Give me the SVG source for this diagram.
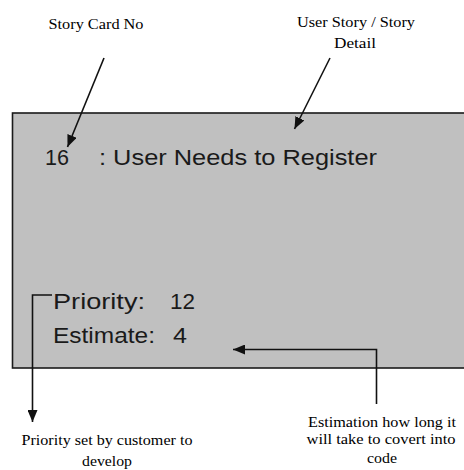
<svg xmlns="http://www.w3.org/2000/svg" width="464" height="470" viewBox="0 0 464 470">
  <style>
    .card { fill: #c0c0c0; stroke: #1a1a1a; stroke-width: 1.6; }
    .hand { font-family: "Liberation Sans", "DejaVu Sans", sans-serif; font-size: 22px; fill: #1a1a1a; }
    .note { font-family: "Liberation Serif", "Times New Roman", serif; font-size: 15px; fill: #000; text-anchor: middle; }
    .wire { fill: none; stroke: #111; stroke-width: 1.6; }
  </style>
  <defs>
    <marker id="head" markerUnits="userSpaceOnUse" viewBox="0 0 12 10" refX="12" refY="5" markerWidth="12" markerHeight="10" orient="auto">
      <path d="M0,0 L12,5 L0,10 Z" fill="#111"/>
    </marker>
  </defs>

  <!-- story card -->
  <g id="card">
    <rect class="card" x="12.5" y="113" width="470" height="255"/>
    <text class="hand" x="45" y="165" textLength="24" lengthAdjust="spacingAndGlyphs">16</text>
    <text class="hand" x="99" y="165" textLength="278" lengthAdjust="spacingAndGlyphs">: User Needs to Register</text>
    <text class="hand" x="53" y="309" textLength="92" lengthAdjust="spacingAndGlyphs">Priority:</text>
    <text class="hand" x="170" y="309" textLength="25" lengthAdjust="spacingAndGlyphs">12</text>
    <text class="hand" x="53" y="343" textLength="102" lengthAdjust="spacingAndGlyphs">Estimate:</text>
    <text class="hand" x="173" y="343" textLength="14" lengthAdjust="spacingAndGlyphs">4</text>
  </g>

  <!-- callout labels -->
  <g id="label-card-no">
    <text class="note" x="96" y="29" textLength="95" lengthAdjust="spacingAndGlyphs">Story Card No</text>
  </g>
  <g id="label-story">
    <text class="note" x="356" y="27" textLength="118" lengthAdjust="spacingAndGlyphs">User Story / Story</text>
    <text class="note" x="355" y="48" textLength="42" lengthAdjust="spacingAndGlyphs">Detail</text>
  </g>
  <g id="label-priority">
    <text class="note" x="107" y="445" textLength="171" lengthAdjust="spacingAndGlyphs">Priority set by customer to</text>
    <text class="note" x="107" y="466" textLength="50" lengthAdjust="spacingAndGlyphs">develop</text>
  </g>
  <g id="label-estimate">
    <text class="note" x="382" y="427" textLength="148" lengthAdjust="spacingAndGlyphs">Estimation how long it</text>
    <text class="note" x="381" y="444" textLength="149" lengthAdjust="spacingAndGlyphs">will take to covert into</text>
    <text class="note" x="382" y="463" textLength="30" lengthAdjust="spacingAndGlyphs">code</text>
  </g>

  <!-- connectors -->
  <g id="connectors">
    <line class="wire" x1="104" y1="58" x2="67.5" y2="147" marker-end="url(#head)"/>
    <line class="wire" x1="330" y1="58" x2="294.5" y2="129" marker-end="url(#head)"/>
    <polyline class="wire" points="52,295 32.5,295 32.5,422" marker-end="url(#head)"/>
    <polyline class="wire" points="376.5,404 376.5,349.5 233,349.5" marker-end="url(#head)"/>
  </g>
</svg>
